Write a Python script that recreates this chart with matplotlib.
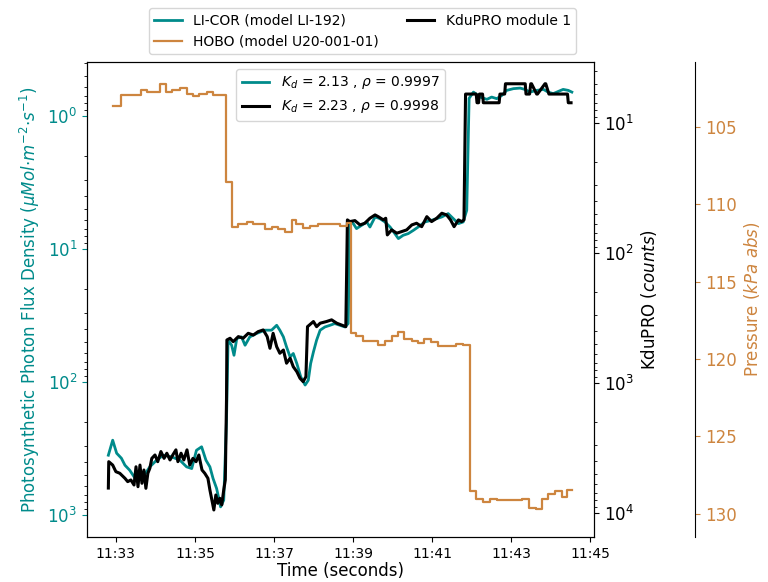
import matplotlib
matplotlib.use("Agg")
import matplotlib.pyplot as plt
from matplotlib.ticker import FuncFormatter, FixedLocator

# time in minutes after 11:00
licor_t = [32.81, 32.92, 33.02, 33.14, 33.23, 33.35, 33.52, 33.69, 33.86, 34.03, 34.20, 34.41, 34.62,
           34.79, 34.92, 35.04, 35.17, 35.28, 35.38, 35.46, 35.55, 35.65, 35.73, 35.80, 35.84,
           35.93, 35.99, 36.06, 36.18, 36.27, 36.39, 36.56, 36.77, 36.94, 37.07, 37.15, 37.24, 37.32,
           37.41, 37.49, 37.58, 37.68, 37.79, 37.87, 37.93, 38.00, 38.08, 38.17, 38.29, 38.42, 38.54,
           38.67, 38.80, 38.88, 38.92,
           39.01, 39.09, 39.22, 39.35, 39.43, 39.56, 39.68, 39.81, 39.94, 40.06, 40.15, 40.27, 40.40,
           40.53, 40.65, 40.82, 40.99, 41.12, 41.25, 41.41, 41.54, 41.67, 41.79, 41.88, 41.94,
           42.05, 42.22, 42.39, 42.51, 42.64, 42.77, 42.89, 43.06, 43.23, 43.35, 43.48, 43.65, 43.82,
           43.94, 44.07, 44.20, 44.32, 44.45, 44.54]
licor_ppfd = [354, 273, 342, 373, 421, 459, 546, 515, 433, 386, 354, 364, 386,
              433, 446, 325, 306, 386, 433, 530, 630, 866, 771, 193, 48.3,
              52.7, 62.7, 46.9, 45.6, 52.7, 45.6, 43.0, 40.6, 40.6, 37.3, 40.6, 45.6, 54.3,
              64.5, 60.8, 72.3, 91.2, 105, 96.6, 72.3, 59.2, 48.3, 40.6, 38.4, 37.3, 36.2,
              37.3, 38.4, 36.2, 6.23,
              6.41, 6.99, 6.60, 6.23, 6.80, 5.71, 5.88, 6.23, 6.80, 7.62, 8.31, 7.85, 7.62,
              7.20, 6.80, 6.23, 6.05, 5.88, 5.71, 5.39, 5.88, 6.41, 6.23, 5.09, 0.732,
              0.657, 0.716, 0.745, 0.716, 0.736, 0.695, 0.638, 0.619, 0.613, 0.627, 0.657, 0.638, 0.627,
              0.657, 0.675, 0.649, 0.627, 0.638, 0.657]

kdu_t = [32.81, 32.82, 32.92, 33.00, 33.10, 33.23, 33.30, 33.38, 33.46, 33.51, 33.56, 33.61, 33.66,
         33.71, 33.76, 33.81, 33.86, 33.91, 33.99, 34.06, 34.14, 34.22, 34.29, 34.37, 34.44, 34.52,
         34.57, 34.65, 34.72, 34.80, 34.87, 34.95, 35.03, 35.10, 35.18, 35.25, 35.33, 35.38, 35.43,
         35.48, 35.53, 35.58, 35.63, 35.68, 35.73, 35.77, 35.80, 35.81,
         35.89, 35.97, 36.10, 36.22, 36.35, 36.48, 36.60, 36.73, 36.83, 36.90, 36.98, 37.07, 37.15,
         37.24, 37.32, 37.41, 37.49, 37.58, 37.66, 37.74, 37.81, 37.85, 38.00, 38.08, 38.17, 38.33,
         38.46, 38.59, 38.71, 38.82, 38.86,
         38.92, 39.05, 39.18, 39.30, 39.43, 39.56, 39.64, 39.77, 39.83, 39.87, 39.98, 40.11, 40.23,
         40.36, 40.49, 40.61, 40.74, 40.87, 40.99, 41.12, 41.25, 41.37, 41.47, 41.56, 41.67, 41.75,
         41.81, 41.85,
         42.12, 42.14, 42.18, 42.20, 42.28, 42.30, 42.70, 42.72, 42.84, 42.86, 43.36, 43.38, 43.47,
         43.50, 43.52, 43.65, 43.67, 43.86, 43.88, 43.96, 44.03, 44.05, 44.43, 44.45, 44.52]
kdu_counts = [6430, 4030, 4280, 4810, 4950, 5410, 5740, 5570, 6090, 4410, 6280, 4280, 5910,
              4670, 6460, 4950, 4530, 3800, 3580, 4030, 3370, 3800, 3470, 3910, 3580, 3270,
              4030, 3470, 3910, 3270, 4280, 3800, 4030, 3580, 4670, 4950, 5410, 6650, 7940,
              9480, 7270, 8420, 7710, 8670, 6650, 5570, 1350, 467,
              453, 481, 440, 453, 415, 428, 403, 391, 440, 541, 415, 526, 591,
              558, 705, 645, 750, 819, 920, 977, 895, 369, 337, 369, 347, 337,
              327, 347, 358, 369, 55.7,
              57.4, 56.4, 60.9, 59.1, 54.1, 51.0, 52.6, 55.7, 54.1, 72.7, 66.5, 70.5, 68.5,
              66.5, 60.9, 59.1, 62.8, 52.6, 57.4, 54.1, 49.5, 51.0, 55.7, 62.8, 55.7, 57.4,
              55.7, 6,
              6, 7, 7, 6, 6, 7, 7, 6, 6, 5, 5, 6, 6,
              5, 5, 6, 6, 5, 5, 6, 6, 6, 6, 7, 7]

hobo_t = [32.92, 33.12, 33.63, 33.78, 34.11, 34.28, 34.41, 34.62, 34.79, 34.96, 35.11, 35.30, 35.45,
          35.78, 35.95, 36.10, 36.31, 36.48, 36.77, 36.94, 37.11, 37.28, 37.45, 37.57, 37.74, 37.91,
          38.12, 38.50, 38.67, 38.84, 38.94, 39.09, 39.26, 39.64, 39.81, 39.98, 40.15, 40.29, 40.49,
          40.65, 40.80, 40.97, 41.16, 41.62, 41.79, 41.96, 42.11, 42.30, 42.47, 42.64, 43.27, 43.46,
          43.63, 43.78, 43.94, 44.11, 44.28, 44.42, 44.54]
hobo_kpa = [103.63, 102.94, 102.59, 102.76, 102.25, 102.72, 102.59, 102.50, 102.89, 103.02, 102.85, 102.76, 102.94,
            108.53, 111.45, 111.28, 111.11, 111.28, 111.58, 111.44, 111.58, 111.79, 111.02, 111.24, 111.50, 111.43,
            111.24, 111.28, 111.37, 111.21, 118.31, 118.53, 118.85, 119.06, 118.85, 118.53, 118.27, 118.70, 118.85,
            118.95, 118.68, 118.92, 119.17, 119.00, 119.08, 128.53, 129.06, 129.24, 129.02, 129.11, 129.02, 129.60,
            129.71, 129.06, 128.74, 128.53, 128.89, 128.46, 128.46]

time_ticks = [33, 35, 37, 39, 41, 43, 45]
pressure_ticks = [105, 110, 115, 120, 125, 130]

teal = '#008b8b'
orange = '#cd853f'

fig = plt.figure(figsize=(7.68, 5.82), dpi=100)
ax = fig.add_axes([0.1133, 0.0773, 0.6601, 0.8162])
ax2 = ax.twinx()
ax3 = ax.twinx()
ax3.spines['right'].set_position(('axes', 1.2))
for s in ['top', 'left', 'bottom']:
    ax3.spines[s].set_visible(False)

l1, = ax.plot(licor_t, licor_ppfd, color=teal, lw=2)
l3, = ax2.plot(kdu_t, kdu_counts, color='black', lw=2.2)
l2, = ax3.plot(hobo_t, hobo_kpa, color=orange, lw=1.6, drawstyle='steps-post')

ax.set_xlim(32.27, 45.10)
ax.xaxis.set_major_locator(FixedLocator(time_ticks))
ax.xaxis.set_major_formatter(FuncFormatter(lambda v, p: "11:%02d" % int(round(v))))
ax.tick_params(axis='x', labelsize=10)
ax.set_xlabel('Time (seconds)', fontsize=12, labelpad=1)

ax.set_yscale('log')
ax.set_ylim(1460, 0.39)
ax.tick_params(axis='y', which='both', labelcolor=teal, labelsize=12)
ax.tick_params(axis='y', which='major', color=teal)
ax.set_ylabel(r'Photosynthetic Photon Flux Density ($\mu Mol{\cdot}m^{-2}{\cdot}s^{-1}$)',
              color=teal, fontsize=12)

ax2.set_yscale('log')
ax2.set_ylim(15300, 3.4)
ax2.tick_params(axis='y', which='both', labelsize=12)
ax2.set_ylabel(r'KduPRO ($counts$)', fontsize=12)

ax3.set_ylim(131.5, 100.8)
ax3.set_yticks(pressure_ticks)
ax3.tick_params(axis='y', colors=orange, labelsize=12)
ax3.spines['right'].set_color('black')
ax3.set_ylabel(r'Pressure ($kPa\ abs$)', color=orange, fontsize=12)

ax3.legend([l1, l3], [r'$K_d$ = 2.13 , $\rho$ = 0.9997', r'$K_d$ = 2.23 , $\rho$ = 0.9998'],
           loc='upper center', fontsize=10)
fig.legend([l1, l2, l3], ['LI-COR (model LI-192)', 'HOBO (model U20-001-01)', 'KduPRO module 1'],
           ncol=2, fontsize=10, loc='lower center',
           bbox_to_anchor=(0.472, 0.895))

fig.savefig('out.png', dpi=100)
